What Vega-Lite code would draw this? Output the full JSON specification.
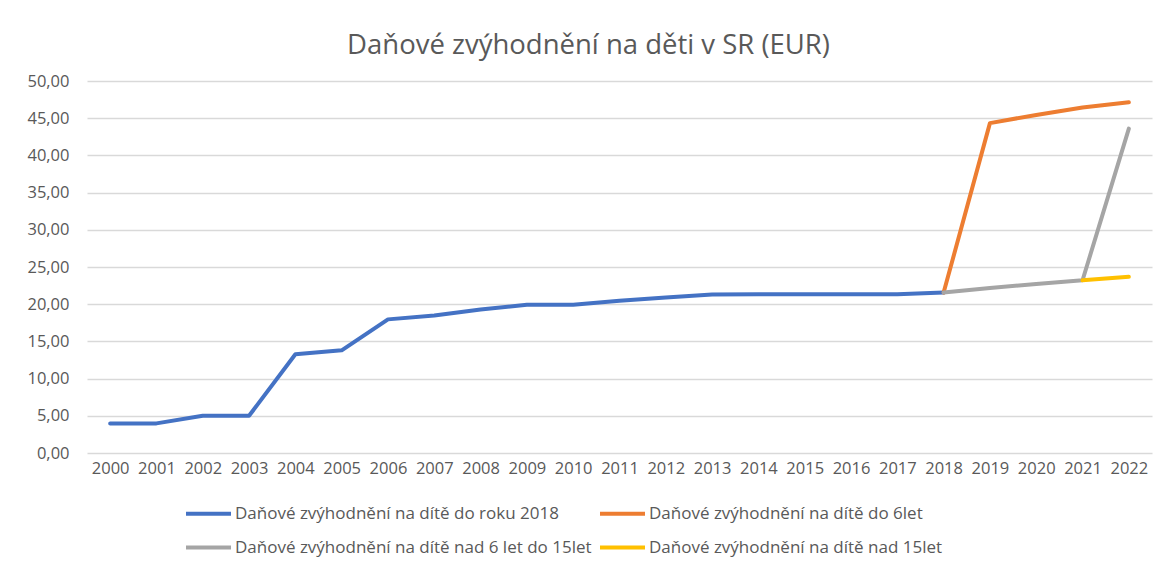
{
  "$schema": "https://vega.github.io/schema/vega-lite/v6.json",
  "autosize": {"type": "none"},
  "width": 1065,
  "height": 372,
  "padding": {"left": 87, "top": 81, "right": 13, "bottom": 112},
  "background": "white",
  "title": {
    "text": "Daňové zvýhodnění  na děti v SR (EUR)",
    "fontSize": 27.5,
    "font": "Open Sans",
    "fontWeight": "normal",
    "color": "#595959",
    "anchor": "middle",
    "dx": -31,
    "offset": 14
  },
  "data": {
    "values": [
      {"rok": "2000", "hodnota": 3.98, "serie": "Daňové zvýhodnění na dítě do roku 2018"},
      {"rok": "2001", "hodnota": 3.98, "serie": "Daňové zvýhodnění na dítě do roku 2018"},
      {"rok": "2002", "hodnota": 5.0, "serie": "Daňové zvýhodnění na dítě do roku 2018"},
      {"rok": "2003", "hodnota": 5.0, "serie": "Daňové zvýhodnění na dítě do roku 2018"},
      {"rok": "2004", "hodnota": 13.28, "serie": "Daňové zvýhodnění na dítě do roku 2018"},
      {"rok": "2005", "hodnota": 13.8, "serie": "Daňové zvýhodnění na dítě do roku 2018"},
      {"rok": "2006", "hodnota": 17.96, "serie": "Daňové zvýhodnění na dítě do roku 2018"},
      {"rok": "2007", "hodnota": 18.47, "serie": "Daňové zvýhodnění na dítě do roku 2018"},
      {"rok": "2008", "hodnota": 19.3, "serie": "Daňové zvýhodnění na dítě do roku 2018"},
      {"rok": "2009", "hodnota": 19.92, "serie": "Daňové zvýhodnění na dítě do roku 2018"},
      {"rok": "2010", "hodnota": 19.92, "serie": "Daňové zvýhodnění na dítě do roku 2018"},
      {"rok": "2011", "hodnota": 20.46, "serie": "Daňové zvýhodnění na dítě do roku 2018"},
      {"rok": "2012", "hodnota": 20.91, "serie": "Daňové zvýhodnění na dítě do roku 2018"},
      {"rok": "2013", "hodnota": 21.29, "serie": "Daňové zvýhodnění na dítě do roku 2018"},
      {"rok": "2014", "hodnota": 21.33, "serie": "Daňové zvýhodnění na dítě do roku 2018"},
      {"rok": "2015", "hodnota": 21.33, "serie": "Daňové zvýhodnění na dítě do roku 2018"},
      {"rok": "2016", "hodnota": 21.33, "serie": "Daňové zvýhodnění na dítě do roku 2018"},
      {"rok": "2017", "hodnota": 21.33, "serie": "Daňové zvýhodnění na dítě do roku 2018"},
      {"rok": "2018", "hodnota": 21.56, "serie": "Daňové zvýhodnění na dítě do roku 2018"},
      {"rok": "2018", "hodnota": 21.56, "serie": "Daňové zvýhodnění na dítě do 6let"},
      {"rok": "2019", "hodnota": 44.34, "serie": "Daňové zvýhodnění na dítě do 6let"},
      {"rok": "2020", "hodnota": 45.44, "serie": "Daňové zvýhodnění na dítě do 6let"},
      {"rok": "2021", "hodnota": 46.44, "serie": "Daňové zvýhodnění na dítě do 6let"},
      {"rok": "2022", "hodnota": 47.14, "serie": "Daňové zvýhodnění na dítě do 6let"},
      {"rok": "2018", "hodnota": 21.56, "serie": "Daňové zvýhodnění na dítě nad 6 let do 15let"},
      {"rok": "2019", "hodnota": 22.17, "serie": "Daňové zvýhodnění na dítě nad 6 let do 15let"},
      {"rok": "2020", "hodnota": 22.72, "serie": "Daňové zvýhodnění na dítě nad 6 let do 15let"},
      {"rok": "2021", "hodnota": 23.22, "serie": "Daňové zvýhodnění na dítě nad 6 let do 15let"},
      {"rok": "2022", "hodnota": 43.6, "serie": "Daňové zvýhodnění na dítě nad 6 let do 15let"},
      {"rok": "2021", "hodnota": 23.22, "serie": "Daňové zvýhodnění na dítě nad 15let"},
      {"rok": "2022", "hodnota": 23.68, "serie": "Daňové zvýhodnění na dítě nad 15let"}
    ]
  },
  "mark": {"type": "line", "strokeWidth": 4, "strokeCap": "round", "strokeJoin": "round"},
  "encoding": {
    "x": {
      "field": "rok",
      "type": "ordinal",
      "scale": {"type": "point", "padding": 0.5},
      "axis": {
        "title": null,
        "labelAngle": 0,
        "domain": false,
        "ticks": false,
        "grid": false,
        "labelFont": "Open Sans",
        "labelFontSize": 16.5,
        "labelColor": "#595959",
        "labelPadding": 7
      }
    },
    "y": {
      "field": "hodnota",
      "type": "quantitative",
      "scale": {"domain": [0, 50], "nice": false},
      "axis": {
        "title": null,
        "values": [0, 5, 10, 15, 20, 25, 30, 35, 40, 45, 50],
        "labelExpr": "replace(format(datum.value, '.2f'), '.', ',')",
        "domain": false,
        "ticks": false,
        "gridColor": "#d9d9d9",
        "gridWidth": 1.5,
        "labelFont": "Open Sans",
        "labelFontSize": 16.5,
        "labelColor": "#595959",
        "labelPadding": 18
      }
    },
    "color": {
      "field": "serie",
      "type": "nominal",
      "scale": {
        "domain": [
          "Daňové zvýhodnění na dítě do roku 2018",
          "Daňové zvýhodnění na dítě do 6let",
          "Daňové zvýhodnění na dítě nad 6 let do 15let",
          "Daňové zvýhodnění na dítě nad 15let"
        ],
        "range": ["#4472c4", "#ed7d31", "#a5a5a5", "#ffc000"]
      },
      "legend": {
        "title": null,
        "orient": "none",
        "legendX": 97,
        "legendY": 408,
        "direction": "horizontal",
        "columns": 2,
        "columnPadding": 0,
        "rowPadding": 1,
        "symbolType": "stroke",
        "symbolSize": 2025,
        "symbolStrokeWidth": 4,
        "labelFont": "Open Sans",
        "labelFontSize": 17,
        "labelColor": "#595959",
        "labelOffset": 2,
        "labelLimit": 500
      }
    }
  },
  "config": {"view": {"stroke": null}}
}
